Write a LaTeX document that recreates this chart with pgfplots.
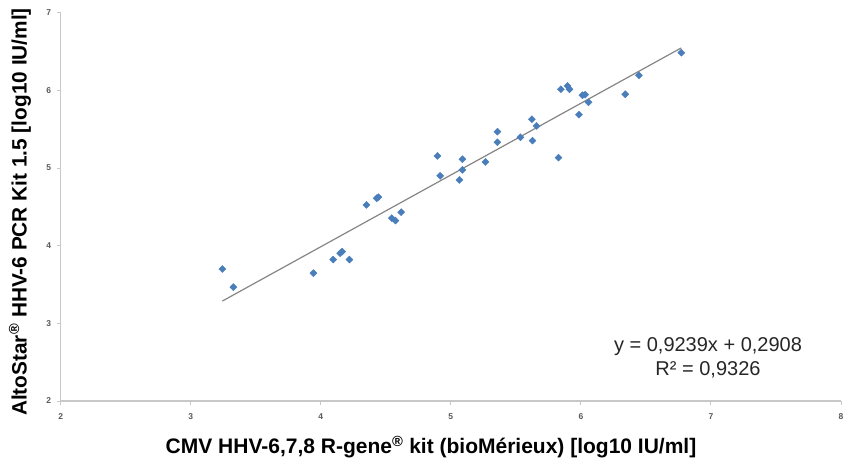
\documentclass[border=0pt]{standalone}
\usepackage{fontspec}
\setmainfont{Liberation Sans}
\usepackage{pgfplots}
\pgfplotsset{compat=1.18}
\definecolor{ptblue}{HTML}{4A7EBB}
\definecolor{axgray}{HTML}{C8C8C8}
\definecolor{ticktext}{HTML}{595959}
\definecolor{trend}{HTML}{858585}
\begin{document}
\begin{tikzpicture}[x=1pt,y=1pt]
\path[use as bounding box] (0,0) rectangle (845,464);
\begin{axis}[
  at={(60.7pt,63pt)}, anchor=south west,
  scale only axis, width=780.3pt, height=388.3pt,
  xmin=2, xmax=8, ymin=2, ymax=7,
  axis lines=left, axis line style={axgray, line width=1.3pt, -},
  xtick={2,...,8}, ytick={2,...,7},
  tick style={axgray, line width=1pt}, tick align=outside, major tick length=4pt,
  ticklabel style={font=\fontsize{8.5}{9}\selectfont\bfseries, text=ticktext},
  xticklabel style={yshift=-5pt},
  yticklabel style={xshift=-2pt},
  /pgf/number format/assume math mode=true,
  clip=false,
]
\addplot[trend, line width=1.2pt] coordinates {(3.243,3.287) (6.772,6.547)};
\addplot[only marks, mark=square*, mark size=2.5pt, color=ptblue,
  every mark/.append style={rotate=45}] coordinates {
(3.243,3.70) (3.328,3.466) (3.943,3.646) (4.095,3.821) (4.149,3.903)
(4.164,3.924) (4.220,3.821) (4.351,4.525) (4.430,4.611) (4.443,4.624)
(4.546,4.354) (4.574,4.323) (4.618,4.431) (4.897,5.156) (4.918,4.900)
(5.066,4.847) (5.089,5.113) (5.089,4.976) (5.266,5.078) (5.358,5.468)
(5.358,5.332) (5.535,5.396) (5.623,5.628) (5.628,5.353) (5.659,5.542)
(5.828,5.134) (5.846,6.014) (5.897,6.057) (5.912,6.014) (5.985,5.687)
(6.012,5.937) (6.033,5.945) (6.058,5.847) (6.341,5.950) (6.446,6.194)
(6.772,6.485)
};
\end{axis}
\node[rotate=90, font=\fontsize{20.8}{21}\selectfont\bfseries] at (20,252)
  {AltoStar\textsuperscript{®} HHV-6 PCR Kit 1.5 [log10 IU/ml]};
\node[font=\fontsize{21}{21}\selectfont\bfseries] at (431,17)
  {CMV HHV-6,7,8 R-gene\textsuperscript{®} kit (bioMérieux) [log10 IU/ml]};
\node[font=\fontsize{20}{20}\selectfont, text=black!85] at (708,117) {y = 0,9239x + 0,2908};
\node[font=\fontsize{20}{20}\selectfont, text=black!85] at (708,94) {R² = 0,9326};
\end{tikzpicture}
\end{document}
